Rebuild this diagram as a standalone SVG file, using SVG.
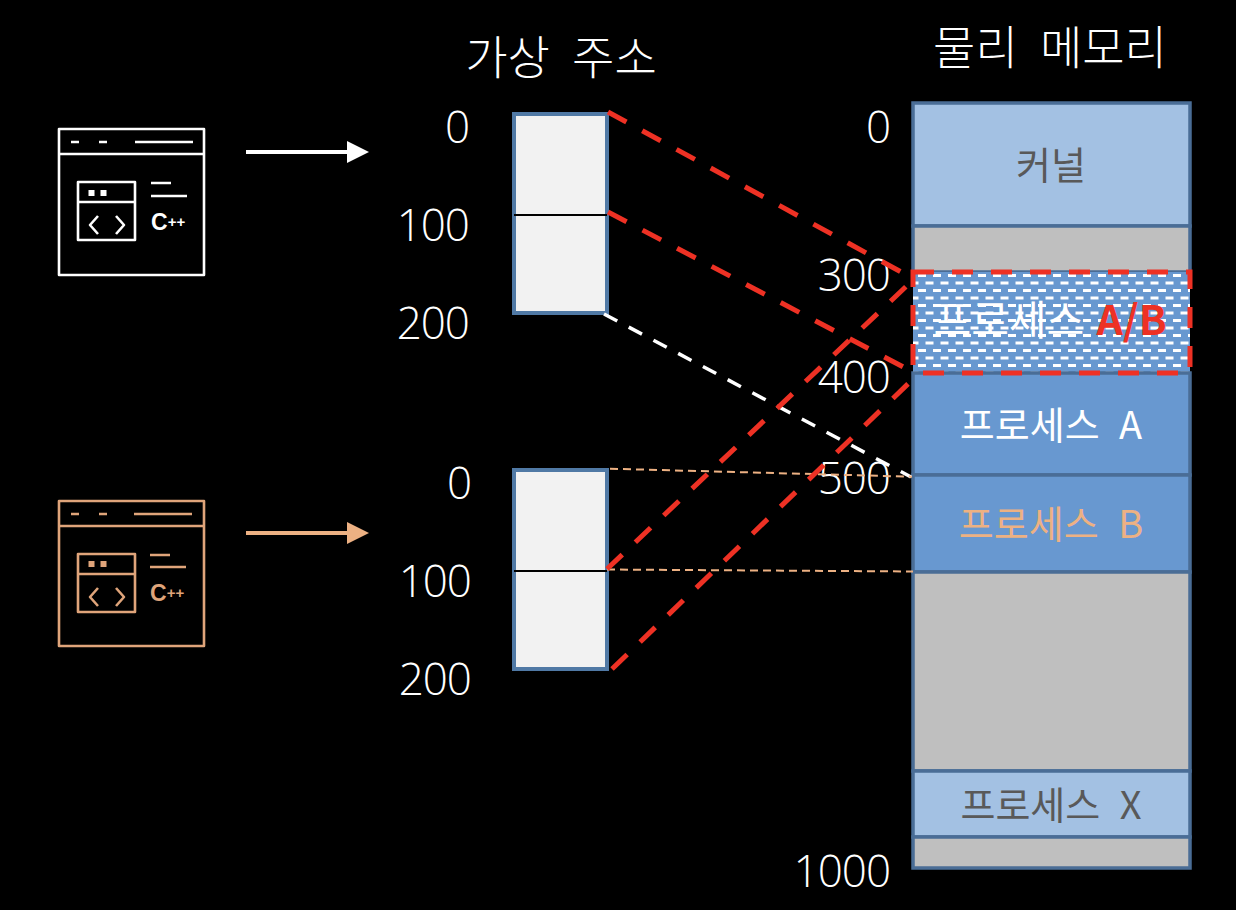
<svg xmlns="http://www.w3.org/2000/svg" width="1236" height="910" viewBox="0 0 1236 910">
<defs>
<style>
text{font-family:"Noto Sans CJK KR","Noto Sans",sans-serif;}
.num{font-family:"Open Sans","Noto Sans",sans-serif;font-weight:300;font-size:44px;letter-spacing:-1px;fill:#fff;text-anchor:end;}
.title{font-size:46px;font-weight:300;word-spacing:12px;fill:#fff;text-anchor:middle;}
.lbl{font-size:38px;word-spacing:11px;text-anchor:middle;}
.seg{stroke:#4a6d96;stroke-width:3.500;}
.light{fill:#a3c1e3;}.gray{fill:#bfbfbf;}.mid{fill:#6898d0;}
.vbox{fill:#f2f2f2;stroke:#5079a5;stroke-width:4;}
.div{stroke:#000;stroke-width:2;}
.red{stroke:#ee3124;stroke-width:5;stroke-dasharray:21 18;fill:none;}
.peach{stroke:#edb183;stroke-width:2;stroke-dasharray:8 5;fill:none;}
.ico{fill:none;stroke-width:2.600;stroke-linejoin:round;}
.cpp{font-family:"Liberation Sans",sans-serif;font-weight:700;stroke:none;}
</style>
<pattern id="brick" width="15" height="15" patternUnits="userSpaceOnUse" x="912" y="272">
<rect width="15" height="15" fill="#6898d0"/>
<rect x="6" y="2" width="8" height="3" fill="#fff"/>
<rect x="-1.500" y="9.500" width="8" height="3" fill="#fff"/>
<rect x="13.500" y="9.500" width="8" height="3" fill="#fff"/>
</pattern>
<marker id="ah" markerUnits="userSpaceOnUse" markerWidth="24" markerHeight="24" refX="15" refY="11" orient="auto"><path d="M0 0L22 11L0 22Z" fill="context-stroke"/></marker>
</defs>
<rect width="1236" height="910" fill="#000"/>

<g id="title-virtual"><text class="title" x="561" y="74">가상 주소</text></g>
<g id="title-physical"><text class="title" x="1050" y="64">물리 메모리</text></g>

<g id="program-a" stroke="#fff">
<g class="ico">
<rect x="59" y="129" width="145" height="146"/>
<path d="M59 154H204M71 142H79M99 142H107M135 142H193"/>
<rect x="78" y="182" width="57" height="58"/>
<path d="M78 202H135M151 183H171M151 196H187"/>
<path d="M98 216L90 225L98 234M116 216L124 225L116 234"/>
</g>
<rect x="88.500" y="190" width="6" height="6" fill="#fff" stroke="none"/>
<rect x="100.500" y="190" width="6" height="6" fill="#fff" stroke="none"/>
<text class="cpp" x="151" y="230" font-size="23" fill="#fff">C<tspan font-size="15" dy="-3">++</tspan></text>
</g>
<g id="program-b" stroke="#dfa47a">
<g class="ico">
<rect x="59" y="501" width="145" height="145"/>
<path d="M59 526H204M71 514H79M99 514H107M134 514H192"/>
<rect x="78" y="554" width="57" height="58"/>
<path d="M78 574H135M150 555H170M150 567H186"/>
<path d="M98 588L90 597L98 606M116 588L124 597L116 606"/>
</g>
<rect x="88.500" y="561" width="6" height="6" fill="#dfa47a" stroke="none"/>
<rect x="100.500" y="561" width="6" height="6" fill="#dfa47a" stroke="none"/>
<text class="cpp" x="150" y="601" font-size="23" fill="#dfa47a">C<tspan font-size="15" dy="-3">++</tspan></text>
</g>

<g id="virtual-a">
<rect class="vbox" x="514" y="114" width="93" height="199"/>
<line class="div" x1="514" y1="215" x2="607" y2="215"/>
<text class="num" x="469" y="143">0</text><text class="num" x="469" y="241">100</text><text class="num" x="469" y="339">200</text>
</g>
<g id="virtual-b">
<rect class="vbox" x="514" y="470" width="93" height="199"/>
<line class="div" x1="514" y1="571" x2="607" y2="571"/>
<text class="num" x="471" y="499">0</text><text class="num" x="471" y="597">100</text><text class="num" x="471" y="695">200</text>
</g>

<g id="physical-memory">
<rect class="light seg" x="913" y="103" width="277" height="123"/>
<rect class="gray seg" x="913" y="226" width="277" height="46"/>
<rect x="913" y="272" width="277" height="101" fill="url(#brick)"/>
<rect class="mid seg" x="913" y="373" width="277" height="102"/>
<rect class="mid seg" x="913" y="475" width="277" height="97"/>
<rect class="gray seg" x="913" y="572" width="277" height="199"/>
<rect class="light seg" x="913" y="771" width="277" height="66"/>
<rect class="gray seg" x="913" y="837" width="277" height="31"/>
<text class="lbl" x="1051" y="179" fill="#595959">커널</text>
<text class="lbl" x="1050" y="335" fill="#fff" style="font-size:41px;word-spacing:3px">프로세스 <tspan font-weight="700" fill="#ee3124">A/B</tspan></text>
<text class="lbl" x="1051" y="439" fill="#fff">프로세스 A</text>
<text class="lbl" x="1051" y="538" fill="#edb183">프로세스 B</text>
<text class="lbl" x="1051" y="819" fill="#595959">프로세스 X</text>
<text class="num" x="890" y="143">0</text><text class="num" x="890" y="291">300</text><text class="num" x="890" y="393">400</text><text class="num" x="890" y="494">500</text><text class="num" x="890" y="887">1000</text>
</g>

<g id="connectors">
<line x1="246" y1="152" x2="362" y2="152" stroke="#fff" stroke-width="4" marker-end="url(#ah)"/>
<line x1="246" y1="533" x2="362" y2="533" stroke="#edb183" stroke-width="4" marker-end="url(#ah)"/>
<line x1="604" y1="314" x2="911" y2="477" stroke="#fff" stroke-width="3.500" stroke-dasharray="15 13" fill="none"/>
<line class="peach" x1="610" y1="468.700" x2="912" y2="476.700"/>
<line class="peach" x1="607" y1="569.500" x2="913" y2="571.500"/>
<line class="red" x1="608" y1="112" x2="903" y2="273"/>
<line class="red" x1="608" y1="212" x2="913" y2="372"/>
<line class="red" x1="607" y1="569" x2="913" y2="280"/>
<line class="red" x1="612" y1="669" x2="912" y2="380"/>
<rect class="red" x="913" y="272" width="277" height="101"/>
</g>
</svg>
